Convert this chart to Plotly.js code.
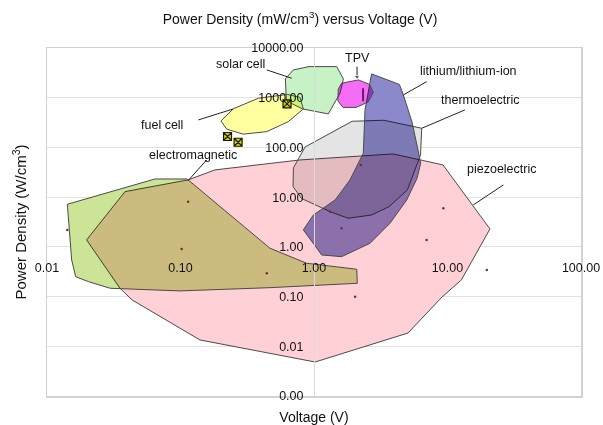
<!DOCTYPE html>
<html><head><meta charset="utf-8">
<script src="https://cdn.plot.ly/plotly-3.0.1.min.js"></script>
<style>
html,body{margin:0;padding:0;background:#fff}
#chart{width:603px;height:425px}
.js-fill{mix-blend-mode:multiply}
</style></head><body><div id="chart"></div>
<script>
// ---- tick labels ----
const xTickVals = [0.01, 0.1, 1, 10, 100];
const xTickText = ['0.01', '0.10', '1.00', '10.00', '100.00'];
const yTickVals = [0.001, 0.01, 0.1, 1, 10, 100, 1000, 10000];
const yTickText = ['0.00', '0.01', '0.10', '1.00', '10.00', '100.00', '1000.00', '10000.00'];

// ---- technology regions (Voltage V, Power density) ----
const piezoV = [0.0198, 0.0384, 0.114, 0.181, 0.785, 3.91, 9.25, 20.8, 12.7, 9.10, 5.06, 1.02, 0.140, 0.0434, 0.0352];
const piezoP = [1.38, 12.9, 22.2, 35.3, 56.0, 74.0, 44.5, 2.29, 0.216, 0.098, 0.0185, 0.00483, 0.0134, 0.0855, 0.147];

const emagV = [0.0142, 0.0644, 0.112, 0.468, 0.881, 2.09, 2.11, 0.468, 0.0991, 0.0297, 0.0204, 0.0164, 0.0153];
const emagP = [7.19, 23.2, 23.2, 0.938, 0.468, 0.354, 0.185, 0.151, 0.130, 0.147, 0.200, 0.251, 0.544];

const thermoV = [1.93, 3.34, 6.41, 6.28, 5.01, 3.65, 2.70, 1.80, 1.32, 0.805, 0.697, 0.701, 0.857];
const thermoP = [336, 352, 243, 70.6, 14.0, 6.44, 4.38, 3.76, 5.11, 9.42, 16.3, 38.7, 102];

const lithiumV = [2.70, 4.36, 4.67, 5.42, 6.01, 6.30, 5.91, 4.95, 3.71, 2.63, 1.61, 1.14, 1.05, 0.832, 0.989, 1.44, 1.86, 2.34, 2.41];
const lithiumP = [3013, 1853, 1138, 326, 89.1, 48.1, 23.8, 8.79, 2.99, 1.18, 0.635, 0.687, 0.938, 2.19, 4.38, 8.79, 22.2, 76.4, 568];

const solarV = [0.700, 0.918, 1.48, 1.66, 1.57, 1.28, 0.820, 0.621, 0.610];
const solarP = [3625, 4227, 4227, 2388, 1250, 472, 595, 862, 2388];

const fuelV = [0.201, 0.249, 0.383, 0.632, 0.785, 0.832, 0.641, 0.443, 0.295, 0.222];
const fuelP = [341, 601, 977, 1165, 1014, 595, 330, 208, 185, 233];

const tpvV = [1.61, 2.15, 2.61, 2.78, 2.55, 2.07, 1.65, 1.51, 1.52];
const tpvP = [1959, 2280, 1853, 1279, 823, 638, 638, 862, 1503];
const tpvBarV = [2.33, 2.33];
const tpvBarP = [1550, 850];

// fuel-cell data markers
const fuelMarkV = [0.628, 0.225, 0.270];
const fuelMarkP = [750, 166, 127];

// small vertex marks
const markV = [9.31, 6.98, 19.7, 2.03, 0.114, 0.102, 0.443, 0.0142, 2.24, 1.32, 1.61];
const markP = [5.98, 1.38, 0.343, 0.0995, 8.12, 0.908, 0.294, 2.19, 44.5, 5.11, 2.37];

// labels and leader lines: [tail V, head V], [tail P, head P]
const labels = ['solar cell', 'fuel cell', 'electromagnetic', 'TPV', 'lithium/lithium-ion', 'thermoelectric', 'piezoelectric'];
const leaderV = [[0.443, 0.681], [0.136, 0.249], [0.157, 0.114], [2.10, 2.10], [6.98, 4.67], [13.5, 6.41], [26.2, 15.6]];
const leaderP = [[3625, 2466], [357, 595], [56.0, 21.5], [4227, 2624], [2108, 1138], [568, 243], [17.6, 6.97]];
const labelPos = [[0.363, 0.954], [0.215, 0.779], [0.273, 0.693], [0.581, 0.971], [0.790, 0.934], [0.811, 0.851], [0.852, 0.652]];

const FONT = 'Liberation Sans, Arial, sans-serif';
const EDGE = '#4a4a4a';

function closeIt(a) { return a.concat([a[0]]); }
function region(v, p, color) {
  return {x: closeIt(v), y: closeIt(p), mode: 'lines', fill: 'toself', fillcolor: color,
          line: {color: EDGE, width: 1}, hoverinfo: 'skip', showlegend: false};
}

const traces = [
  region(piezoV, piezoP, '#ffd1d6'),
  region(emagV, emagP, '#cbe496'),
  region(thermoV, thermoP, '#e4e4e4'),
  region(lithiumV, lithiumP, '#8c88cc'),
  region(solarV, solarP, '#c6f2c6'),
  region(fuelV, fuelP, '#ffffa0'),
  region(tpvV, tpvP, '#f56cf5'),
  {x: tpvBarV, y: tpvBarP, mode: 'lines', line: {color: '#602060', width: 2}, hoverinfo: 'skip', showlegend: false},
  {x: fuelMarkV, y: fuelMarkP, mode: 'markers', marker: {symbol: 'square-x', size: 8, color: '#d6d400', line: {color: '#1a1a00', width: 1.2}}, hoverinfo: 'skip', showlegend: false}
];
leaderV.forEach((lv, i) => {
  const isTPV = labels[i] === 'TPV';
  traces.push({x: lv, y: leaderP[i], mode: isTPV ? 'lines+markers' : 'lines',
    line: {color: '#222', width: 1},
    marker: {symbol: 'triangle-down', size: [0, 5], color: '#222'},
    hoverinfo: 'skip', showlegend: false});
});
traces.push({x: markV, y: markP, xaxis: 'x2', yaxis: 'y2', mode: 'markers',
  marker: {size: 2.5, color: '#7a2a3a'}, hoverinfo: 'skip', showlegend: false});

const annotations = labels.map((t, i) => ({
  text: t, xref: 'paper', yref: 'paper', x: labelPos[i][0], y: labelPos[i][1],
  xanchor: 'center', yanchor: 'middle', showarrow: false,
  font: {family: FONT, size: 12.5, color: '#111'}
}));

const layout = {
  width: 603, height: 425,
  margin: {l: 47, r: 22, t: 48, b: 29},
  paper_bgcolor: '#fff', plot_bgcolor: '#fff',
  showlegend: false, hovermode: false,
  font: {family: FONT, size: 12.5, color: '#111'},
  title: {text: 'Power Density (mW/cm<sup>3</sup>) versus Voltage (V)',
          xref: 'container', yref: 'container', x: 300 / 603, y: 1 - 19 / 425,
          xanchor: 'center', yanchor: 'middle', font: {family: FONT, size: 14, color: '#111'}},
  xaxis: {type: 'log', range: [-2, 2], showgrid: false, zeroline: false,
          showline: true, mirror: true, linecolor: '#d2d2d2', linewidth: 1.5,
          ticks: '', showticklabels: false,
          title: {text: 'Voltage (V)', standoff: 17, font: {family: FONT, size: 14, color: '#111'}}},
  yaxis: {type: 'log', range: [-3, 4], showgrid: true, gridcolor: '#e2e2e2', gridwidth: 1,
          tickvals: yTickVals, zeroline: false,
          showline: true, mirror: true, linecolor: '#d2d2d2', linewidth: 1.5,
          ticks: '', showticklabels: false,
          title: {text: 'Power Density (W/cm<sup>3</sup>)', standoff: 15, font: {family: FONT, size: 15, color: '#111'}}},
  xaxis2: {type: 'log', range: [-2, 2], overlaying: 'x', anchor: 'free', position: 3 / 7,
           side: 'bottom', showgrid: false, zeroline: false, showline: false,
           ticks: '', tickvals: xTickVals, ticktext: xTickText, ticklabelstandoff: 12,
           tickfont: {family: FONT, size: 12.5, color: '#111'}},
  yaxis2: {type: 'log', range: [-3, 4], overlaying: 'y', anchor: 'free', position: 0.5,
           side: 'left', showgrid: false, zeroline: false, showline: true,
           linecolor: '#dadada', linewidth: 1,
           ticks: '', tickvals: yTickVals, ticktext: yTickText, ticklabelstandoff: 8,
           tickfont: {family: FONT, size: 12.5, color: '#111'}},
  annotations: annotations
};

Plotly.newPlot('chart', traces, layout, {staticPlot: true, displayModeBar: false});
</script></body></html>
